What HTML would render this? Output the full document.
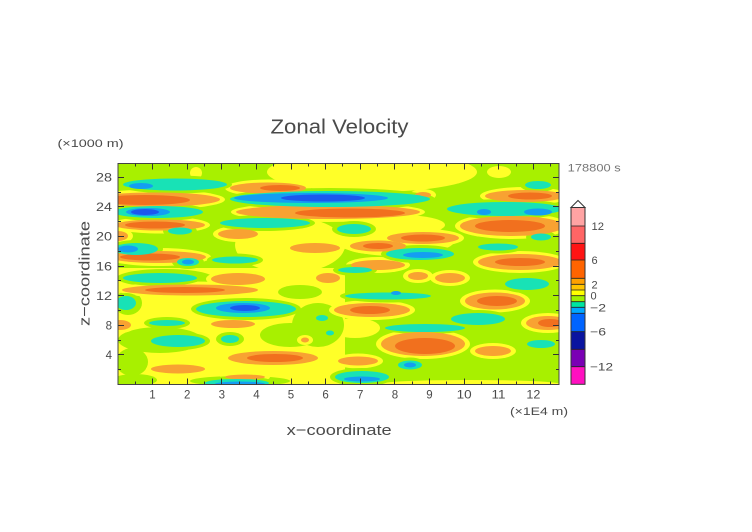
<!DOCTYPE html>
<html><head><meta charset="utf-8"><style>
html,body{margin:0;padding:0;background:#fff;}
svg{display:block;}
text{font-family:"Liberation Sans",sans-serif;fill:#4a4a4a;}
</style></head><body>
<svg width="752" height="532" viewBox="0 0 752 532" xmlns="http://www.w3.org/2000/svg">
<defs><clipPath id="pc"><rect x="118" y="163.5" width="441" height="221"/></clipPath></defs>
<rect width="752" height="532" fill="#fff"/>
<g clip-path="url(#pc)">
<rect x="118" y="163" width="442" height="222" fill="#a8f000"/>
<g fill="#ffff28">
<ellipse cx="372" cy="172" rx="105" ry="20"/><ellipse cx="499" cy="172" rx="12" ry="6"/><ellipse cx="196" cy="173" rx="6" ry="6"/>
<ellipse cx="290" cy="245" rx="55" ry="28"/><ellipse cx="395" cy="240" rx="60" ry="16"/><ellipse cx="400" cy="225" rx="45" ry="10"/>
<rect x="118" y="268" width="227" height="117"/><ellipse cx="355" cy="328" rx="25" ry="10"/><ellipse cx="470" cy="384" rx="90" ry="4"/>
</g>
<g fill="#a8f000">
<ellipse cx="165" cy="278" rx="48" ry="9"/><ellipse cx="128" cy="303" rx="14" ry="12"/><ellipse cx="160" cy="340" rx="42" ry="13"/>
<ellipse cx="132" cy="362" rx="16" ry="14"/><ellipse cx="290" cy="335" rx="30" ry="12"/><ellipse cx="240" cy="381" rx="50" ry="5"/><ellipse cx="135" cy="380" rx="22" ry="6"/>
<ellipse cx="318" cy="325" rx="26" ry="22"/><ellipse cx="300" cy="292" rx="22" ry="7"/>
</g>
<g fill="#ffff28">
<ellipse cx="155" cy="199.5" rx="70" ry="10"/><ellipse cx="160" cy="225" rx="50" ry="8.5"/><ellipse cx="268" cy="188" rx="43" ry="8.5"/>
<ellipse cx="328" cy="212" rx="97" ry="10"/><ellipse cx="238" cy="234" rx="25" ry="8"/><ellipse cx="315" cy="248" rx="30" ry="8"/>
<ellipse cx="378" cy="246" rx="33" ry="8.5"/><ellipse cx="423" cy="238" rx="41" ry="9"/><ellipse cx="525" cy="196" rx="45" ry="9"/>
<ellipse cx="512" cy="226" rx="57" ry="13"/><ellipse cx="158" cy="257" rx="53" ry="9"/><ellipse cx="520" cy="262" rx="47" ry="11"/>
<ellipse cx="378" cy="265" rx="32" ry="8"/><ellipse cx="118" cy="236" rx="15" ry="8"/><ellipse cx="238" cy="279" rx="32" ry="9"/>
<ellipse cx="190" cy="290" rx="73" ry="8.5"/><ellipse cx="418" cy="276" rx="15" ry="7"/><ellipse cx="450" cy="278" rx="20" ry="8"/>
<ellipse cx="495" cy="301" rx="35" ry="11.5"/><ellipse cx="372" cy="310" rx="43" ry="10"/><ellipse cx="233" cy="324" rx="27" ry="7"/>
<ellipse cx="120" cy="325" rx="16" ry="8"/><ellipse cx="548" cy="323" rx="27" ry="10"/><ellipse cx="423" cy="344" rx="47" ry="15"/>
<ellipse cx="493" cy="351" rx="23" ry="8"/><ellipse cx="273" cy="358" rx="50" ry="10"/><ellipse cx="178" cy="369" rx="32" ry="7.5"/>
<ellipse cx="358" cy="361" rx="25" ry="7.5"/><ellipse cx="245" cy="377" rx="25" ry="5.5"/><ellipse cx="423" cy="195" rx="13" ry="6"/><ellipse cx="328" cy="278" rx="17" ry="8"/>
<ellipse cx="305" cy="340" rx="8" ry="5"/>
</g>
<g fill="#a8f000">
<ellipse cx="175" cy="184.5" rx="57" ry="9"/><ellipse cx="158" cy="212" rx="50" ry="9"/><ellipse cx="330" cy="199" rx="105" ry="11"/>
<ellipse cx="265" cy="223" rx="50" ry="8"/><ellipse cx="180" cy="231" rx="17" ry="6.5"/><ellipse cx="505" cy="209" rx="63" ry="10"/>
<ellipse cx="538" cy="185" rx="18" ry="7"/><ellipse cx="354" cy="229" rx="22" ry="8"/><ellipse cx="136" cy="249" rx="27" ry="9"/>
<ellipse cx="188" cy="262" rx="16" ry="7"/><ellipse cx="235" cy="260" rx="28" ry="6.5"/><ellipse cx="541" cy="237" rx="15" ry="6.5"/>
<ellipse cx="420" cy="254" rx="39" ry="9"/><ellipse cx="498" cy="247" rx="25" ry="6.5"/><ellipse cx="355" cy="270" rx="22" ry="6"/>
<ellipse cx="160" cy="278" rx="42" ry="8"/><ellipse cx="527" cy="284" rx="27" ry="9"/><ellipse cx="388" cy="296" rx="48" ry="6.5"/>
<ellipse cx="126" cy="303" rx="15" ry="10"/><ellipse cx="246" cy="309" rx="55" ry="11"/><ellipse cx="167" cy="323" rx="23" ry="6"/>
<ellipse cx="478" cy="319" rx="32" ry="9"/><ellipse cx="425" cy="328" rx="45" ry="6"/><ellipse cx="178" cy="341" rx="32" ry="9"/>
<ellipse cx="230" cy="339" rx="14" ry="7"/><ellipse cx="541" cy="344" rx="19" ry="7"/><ellipse cx="410" cy="365" rx="17" ry="7.5"/>
<ellipse cx="362" cy="377" rx="32" ry="9"/><ellipse cx="237" cy="383" rx="37" ry="7"/>
</g>
<g fill="#f8a232">
<ellipse cx="155" cy="199.5" rx="65" ry="7"/><ellipse cx="160" cy="225" rx="45" ry="5.5"/><ellipse cx="268" cy="188" rx="38" ry="5.5"/>
<ellipse cx="328" cy="212" rx="92" ry="7"/><ellipse cx="238" cy="234" rx="20" ry="5"/><ellipse cx="315" cy="248" rx="25" ry="5"/>
<ellipse cx="378" cy="246" rx="28" ry="5.5"/><ellipse cx="423" cy="238" rx="36" ry="6"/><ellipse cx="525" cy="196" rx="40" ry="6"/>
<ellipse cx="512" cy="226" rx="52" ry="10"/><ellipse cx="158" cy="257" rx="48" ry="6"/><ellipse cx="520" cy="262" rx="42" ry="8"/>
<ellipse cx="378" cy="265" rx="27" ry="5"/><ellipse cx="118" cy="236" rx="10" ry="5"/><ellipse cx="238" cy="279" rx="27" ry="6"/>
<ellipse cx="190" cy="290" rx="68" ry="5.5"/><ellipse cx="418" cy="276" rx="10" ry="4"/><ellipse cx="450" cy="278" rx="15" ry="5"/>
<ellipse cx="495" cy="301" rx="30" ry="8.5"/><ellipse cx="372" cy="310" rx="38" ry="7"/><ellipse cx="233" cy="324" rx="22" ry="4"/>
<ellipse cx="120" cy="325" rx="11" ry="5"/><ellipse cx="548" cy="323" rx="22" ry="7"/><ellipse cx="423" cy="344" rx="42" ry="12"/>
<ellipse cx="493" cy="351" rx="18" ry="5"/><ellipse cx="273" cy="358" rx="45" ry="7"/><ellipse cx="178" cy="369" rx="27" ry="4.5"/>
<ellipse cx="358" cy="361" rx="20" ry="4.5"/><ellipse cx="245" cy="377" rx="20" ry="2.5"/><ellipse cx="423" cy="195" rx="8" ry="3"/><ellipse cx="328" cy="278" rx="12" ry="5"/>
<ellipse cx="305" cy="340" rx="4" ry="2.5"/>
</g>
<g fill="#f1701e">
<ellipse cx="145" cy="200" rx="45" ry="5"/><ellipse cx="155" cy="225" rx="30" ry="3.5"/><ellipse cx="280" cy="188" rx="20" ry="3"/>
<ellipse cx="350" cy="213" rx="55" ry="4.5"/><ellipse cx="530" cy="196" rx="22" ry="3.5"/><ellipse cx="510" cy="226" rx="35" ry="6"/>
<ellipse cx="150" cy="257" rx="30" ry="3.5"/><ellipse cx="520" cy="262" rx="25" ry="4"/><ellipse cx="185" cy="290" rx="40" ry="3"/>
<ellipse cx="497" cy="301" rx="20" ry="5"/><ellipse cx="370" cy="310" rx="20" ry="4"/><ellipse cx="550" cy="323" rx="12" ry="4"/>
<ellipse cx="425" cy="346" rx="30" ry="8"/><ellipse cx="275" cy="358" rx="28" ry="4"/><ellipse cx="423" cy="238" rx="22" ry="3.5"/><ellipse cx="378" cy="246" rx="15" ry="3"/>
</g>
<g fill="#18e2b6">
<ellipse cx="175" cy="184.5" rx="52" ry="6"/><ellipse cx="158" cy="212" rx="45" ry="6"/><ellipse cx="330" cy="199" rx="100" ry="8"/>
<ellipse cx="265" cy="223" rx="45" ry="5"/><ellipse cx="180" cy="231" rx="12" ry="3.5"/><ellipse cx="505" cy="209" rx="58" ry="7"/>
<ellipse cx="538" cy="185" rx="13" ry="4"/><ellipse cx="354" cy="229" rx="17" ry="5"/><ellipse cx="136" cy="249" rx="22" ry="6"/>
<ellipse cx="188" cy="262" rx="11" ry="4"/><ellipse cx="235" cy="260" rx="23" ry="3.5"/><ellipse cx="541" cy="237" rx="10" ry="3.5"/>
<ellipse cx="420" cy="254" rx="34" ry="6"/><ellipse cx="498" cy="247" rx="20" ry="3.5"/><ellipse cx="355" cy="270" rx="17" ry="3"/>
<ellipse cx="160" cy="278" rx="37" ry="5"/><ellipse cx="527" cy="284" rx="22" ry="6"/><ellipse cx="388" cy="296" rx="43" ry="3.5"/>
<ellipse cx="126" cy="303" rx="10" ry="7"/><ellipse cx="246" cy="309" rx="50" ry="8"/><ellipse cx="167" cy="323" rx="18" ry="3"/>
<ellipse cx="478" cy="319" rx="27" ry="6"/><ellipse cx="425" cy="328" rx="40" ry="4"/><ellipse cx="178" cy="341" rx="27" ry="6"/>
<ellipse cx="230" cy="339" rx="9" ry="4"/><ellipse cx="541" cy="344" rx="14" ry="4"/><ellipse cx="410" cy="365" rx="12" ry="4.5"/>
<ellipse cx="362" cy="377" rx="27" ry="6"/><ellipse cx="237" cy="383" rx="32" ry="4"/>
<ellipse cx="322" cy="318" rx="6" ry="3"/><ellipse cx="330" cy="333" rx="4" ry="2.5"/>
</g>
<g fill="#149ef2">
<ellipse cx="141" cy="186" rx="12" ry="3"/><ellipse cx="148" cy="212" rx="22" ry="4"/><ellipse cx="311" cy="198" rx="77" ry="5"/>
<ellipse cx="484" cy="212" rx="7" ry="3"/><ellipse cx="538" cy="212" rx="14" ry="3.5"/><ellipse cx="128" cy="249" rx="10" ry="3.5"/>
<ellipse cx="188" cy="262" rx="6" ry="2.5"/><ellipse cx="423" cy="255" rx="20" ry="3"/><ellipse cx="396" cy="293" rx="5" ry="2"/>
<ellipse cx="243" cy="308" rx="27" ry="5"/><ellipse cx="410" cy="365" rx="6" ry="2.5"/><ellipse cx="362" cy="379" rx="18" ry="2.5"/><ellipse cx="240" cy="384" rx="25" ry="2.5"/>
</g>
<g fill="#1c58ee">
<ellipse cx="145" cy="212" rx="14" ry="3"/><ellipse cx="323" cy="198" rx="42" ry="3.5"/><ellipse cx="245" cy="308" rx="15" ry="3"/>
</g>
</g>
<rect x="118" y="163.5" width="441" height="221" fill="none" stroke="#444" stroke-width="1"/>
<g stroke="#333" stroke-width="1">
<path d="M152.5 384.5v-6M187.5 384.5v-6M221.5 384.5v-6M256.5 384.5v-6M291.5 384.5v-6M325.5 384.5v-6M360.5 384.5v-6M394.5 384.5v-6M429.5 384.5v-6M464.5 384.5v-6M498.5 384.5v-6M533.5 384.5v-6"/>
<path d="M135.5 384.5v-3M169.5 384.5v-3M204.5 384.5v-3M239.5 384.5v-3M273.5 384.5v-3M308.5 384.5v-3M342.5 384.5v-3M377.5 384.5v-3M412.5 384.5v-3M446.5 384.5v-3M481.5 384.5v-3M516.5 384.5v-3M550.5 384.5v-3"/>
<path d="M152.5 163.5v6M187.5 163.5v6M221.5 163.5v6M256.5 163.5v6M291.5 163.5v6M325.5 163.5v6M360.5 163.5v6M394.5 163.5v6M429.5 163.5v6M464.5 163.5v6M498.5 163.5v6M533.5 163.5v6"/>
<path d="M135.5 163.5v3M169.5 163.5v3M204.5 163.5v3M239.5 163.5v3M273.5 163.5v3M308.5 163.5v3M342.5 163.5v3M377.5 163.5v3M412.5 163.5v3M446.5 163.5v3M481.5 163.5v3M516.5 163.5v3M550.5 163.5v3"/>
<path d="M118 354.5h6M118 325.5h6M118 295.5h6M118 266.5h6M118 236.5h6M118 206.5h6M118 177.5h6"/>
<path d="M118 369.5h3M118 340.5h3M118 310.5h3M118 280.5h3M118 251.5h3M118 221.5h3M118 192.5h3"/>
<path d="M559 354.5h-6M559 325.5h-6M559 295.5h-6M559 266.5h-6M559 236.5h-6M559 206.5h-6M559 177.5h-6"/>
<path d="M559 369.5h-3M559 340.5h-3M559 310.5h-3M559 280.5h-3M559 251.5h-3M559 221.5h-3M559 192.5h-3"/>
</g>
<text x="270.5" y="133.5" font-size="20" textLength="138" lengthAdjust="spacingAndGlyphs">Zonal Velocity</text>
<text x="57.5" y="147" font-size="11" textLength="66" lengthAdjust="spacingAndGlyphs">(×1000 m)</text>
<g font-size="11.5" text-anchor="end">
<text x="112" y="181.5" textLength="16" lengthAdjust="spacingAndGlyphs">28</text>
<text x="112" y="211" textLength="16" lengthAdjust="spacingAndGlyphs">24</text>
<text x="112" y="240.7" textLength="16" lengthAdjust="spacingAndGlyphs">20</text>
<text x="112" y="270.3" textLength="16" lengthAdjust="spacingAndGlyphs">16</text>
<text x="112" y="299.9" textLength="16" lengthAdjust="spacingAndGlyphs">12</text>
<text x="112" y="329.5">8</text>
<text x="112" y="359.1">4</text>
</g>
<g font-size="11.5" text-anchor="middle">
<text x="152.5" y="398.5">1</text><text x="187.2" y="398.5">2</text><text x="221.8" y="398.5">3</text><text x="256.4" y="398.5">4</text>
<text x="291" y="398.5">5</text><text x="325.6" y="398.5">6</text><text x="360.2" y="398.5">7</text><text x="394.9" y="398.5">8</text>
<text x="429.5" y="398.5">9</text>
<text x="464.2" y="398.5" textLength="15" lengthAdjust="spacingAndGlyphs">10</text>
<text x="498.5" y="398.5" textLength="14" lengthAdjust="spacingAndGlyphs">11</text>
<text x="533.4" y="398.5" textLength="14" lengthAdjust="spacingAndGlyphs">12</text>
</g>
<text x="510" y="415" font-size="11" textLength="58" lengthAdjust="spacingAndGlyphs">(×1E4 m)</text>
<text x="286.7" y="435" font-size="15" textLength="105" lengthAdjust="spacingAndGlyphs">x−coordinate</text>
<text transform="translate(89.5,273.5) rotate(-90)" x="0" y="0" font-size="15" text-anchor="middle" textLength="105" lengthAdjust="spacingAndGlyphs">z−coordinate</text>
<text x="567.7" y="171.5" font-size="11" style="fill:#777" textLength="53" lengthAdjust="spacingAndGlyphs">178800 s</text>
<g>
<rect x="571" y="207.5" width="14" height="18.5" fill="#ffa3a3"/>
<rect x="571" y="226" width="14" height="17.3" fill="#ff6565"/>
<rect x="571" y="243.3" width="14" height="16.7" fill="#ff1414"/>
<rect x="571" y="260" width="14" height="18.3" fill="#ff6400"/>
<rect x="571" y="278.3" width="14" height="6" fill="#ffa000"/>
<rect x="571" y="284.3" width="14" height="5.7" fill="#ffc400"/>
<rect x="571" y="290" width="14" height="5.7" fill="#ffff00"/>
<rect x="571" y="295.7" width="14" height="6" fill="#a0f000"/>
<rect x="571" y="301.7" width="14" height="5.6" fill="#00e6a0"/>
<rect x="571" y="307.3" width="14" height="6" fill="#00a8ff"/>
<rect x="571" y="313.3" width="14" height="18.4" fill="#0064ff"/>
<rect x="571" y="331.7" width="14" height="17.6" fill="#0a14a0"/>
<rect x="571" y="349.3" width="14" height="17.4" fill="#7a00b4"/>
<rect x="571" y="366.7" width="14" height="17.6" fill="#ff10c0"/>
<path d="M571 226H585M571 243.3H585M571 260H585M571 278.3H585M571 284.3H585M571 290H585M571 295.7H585M571 301.7H585M571 307.3H585M571 313.3H585M571 331.7H585M571 349.3H585M571 366.7H585" stroke="#222" stroke-width="0.8"/>
<rect x="571" y="207.5" width="14" height="176.8" fill="none" stroke="#333" stroke-width="1"/>
<path d="M571 207.5L578 200.5L585 207.5Z" fill="#fff" stroke="#333" stroke-width="1"/>
</g>
<g font-size="11">
<text x="591.5" y="230" textLength="12.5" lengthAdjust="spacingAndGlyphs">12</text>
<text x="591.5" y="264">6</text>
<text x="591.5" y="288.3">2</text>
<text x="590.5" y="299.7">0</text>
<text x="590" y="311.3" textLength="16" lengthAdjust="spacingAndGlyphs">−2</text>
<text x="590" y="335.7" textLength="16" lengthAdjust="spacingAndGlyphs">−6</text>
<text x="590" y="370.7" textLength="23" lengthAdjust="spacingAndGlyphs">−12</text>
</g>
</svg>
</body></html>
